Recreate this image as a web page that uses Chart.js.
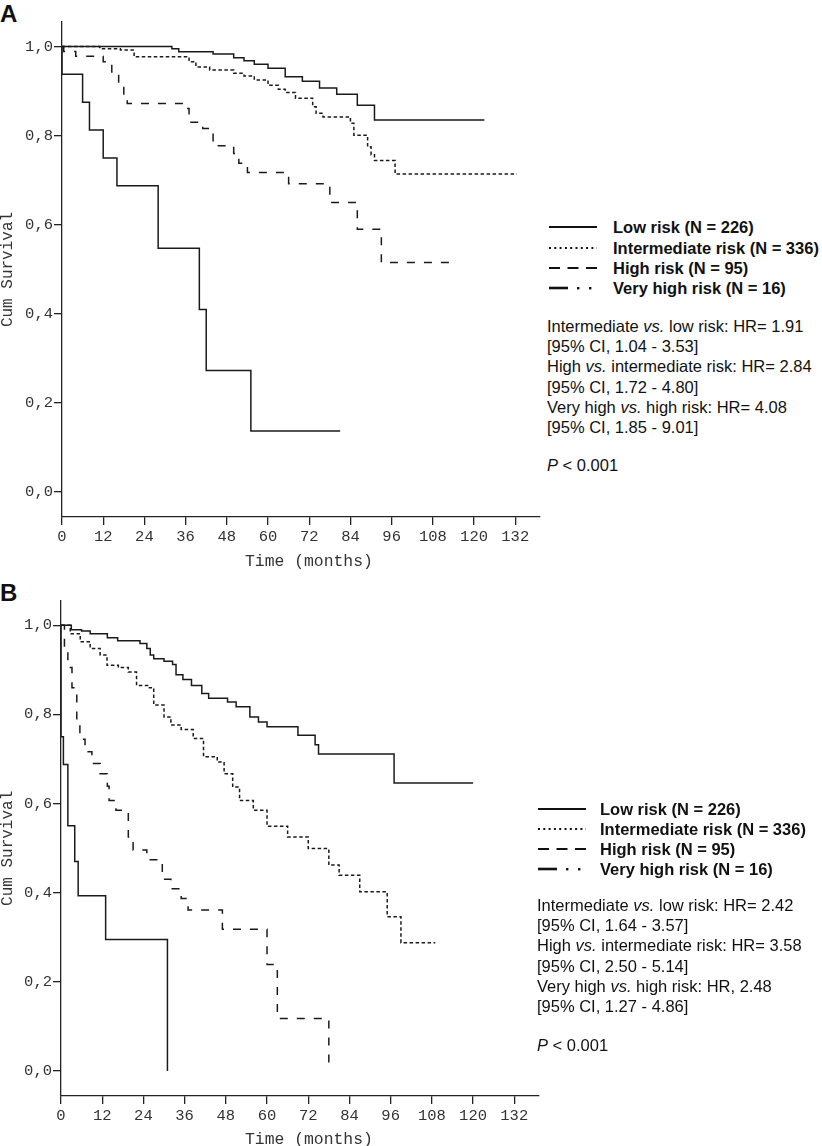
<!doctype html>
<html lang="en">
<head>
<meta charset="utf-8">
<title>Kaplan-Meier curves by risk group</title>
<style>
  * { margin: 0; padding: 0; }
  body {
    width: 822px; height: 1146px; position: relative; overflow: hidden;
    background: #fff; color: #111;
    font-family: "Liberation Sans", Arial, sans-serif;
  }
  canvas { position: absolute; left: 0; }
  #chartA { top: 0; }
  #chartB { top: 578px; }
  .panel { position: absolute; left: 0; font-size: 24px; line-height: 24px; font-weight: bold; }
  .leg { position: absolute; height: 20px; font-size: 16.5px; line-height: 20px; font-weight: bold; white-space: nowrap; }
  .leg svg { position: absolute; left: 0; top: 0; }
  .stat { position: absolute; font-size: 16.5px; line-height: 20.2px; white-space: nowrap; }
  .xtitle { position: absolute; left: 245px; font-family: "Liberation Mono", monospace; font-size: 16.4px; line-height: 20px; color: #333; white-space: pre; }
</style>
</head>
<body>
  <div class="panel" style="top:2px">A</div>
  <div class="panel" style="top:581px">B</div>

  <canvas id="chartA" width="545" height="570"></canvas>
  <canvas id="chartB" width="545" height="570"></canvas>
  <div class="xtitle" style="top:552px">Time (months)</div>
  <div class="xtitle" style="top:1130px">Time (months)</div>

  <div id="legendA"></div>
  <div class="stat" style="left:547px; top:316px">
    Intermediate <i>vs.</i> low risk: HR= 1.91<br>
    [95% CI, 1.04 - 3.53]<br>
    High <i>vs.</i> intermediate risk: HR= 2.84<br>
    [95% CI, 1.72 - 4.80]<br>
    Very high <i>vs.</i> high risk: HR= 4.08<br>
    [95% CI, 1.85 - 9.01]
  </div>
  <div class="stat" style="left:547px; top:455px"><i>P</i> &lt; 0.001</div>

  <div id="legendB"></div>
  <div class="stat" style="left:537px; top:895px">
    Intermediate <i>vs.</i> low risk: HR= 2.42<br>
    [95% CI, 1.64 - 3.57]<br>
    High <i>vs.</i> intermediate risk: HR= 3.58<br>
    [95% CI, 2.50 - 5.14]<br>
    Very high <i>vs.</i> high risk: HR, 2.48<br>
    [95% CI, 1.27 - 4.86]
  </div>
  <div class="stat" style="left:537px; top:1035px"><i>P</i> &lt; 0.001</div>

  <script src="https://cdn.jsdelivr.net/npm/chart.js"></script>
  <script>
    // ticks
    const xTicks = [0, 12, 24, 36, 48, 60, 72, 84, 96, 108, 120, 132];
    const yTicks = [0, 0.2, 0.4, 0.6, 0.8, 1.0];
    const groups = ['Low risk (N = 226)', 'Intermediate risk (N = 336)', 'High risk (N = 95)', 'Very high risk (N = 16)'];

    // panel A (time in months, cumulative survival at each step)
    const aLowT = [0, 32, 34, 44, 50, 53, 56, 60, 65, 70, 75, 80, 86, 91, 123];
    const aLowS = [1, 0.995, 0.988, 0.983, 0.975, 0.968, 0.960, 0.951, 0.932, 0.922, 0.907, 0.893, 0.868, 0.835, 0.835];
    const aIntT = [0, 11, 17, 21, 37, 39, 43, 50, 53, 56, 60, 63, 65, 68, 73, 74, 76, 84, 85, 89, 90, 91, 97, 132.5];
    const aIntS = [1, 0.995, 0.992, 0.977, 0.966, 0.954, 0.947, 0.940, 0.934, 0.925, 0.913, 0.904, 0.897, 0.884, 0.865, 0.850, 0.842, 0.828, 0.801, 0.775, 0.757, 0.744, 0.714, 0.714];
    const aHighT = [0, 0.5, 4, 12, 14.5, 16.5, 18, 19, 35, 37, 41, 44, 50, 51.5, 54, 66, 78, 86, 93, 115];
    const aHighS = [1, 0.989, 0.978, 0.966, 0.943, 0.913, 0.884, 0.872, 0.861, 0.830, 0.816, 0.777, 0.760, 0.738, 0.717, 0.692, 0.650, 0.590, 0.515, 0.515];
    const aVhT = [0, 0, 6, 8, 12, 16, 28, 40, 42, 55, 81];
    const aVhS = [1, 0.9375, 0.875, 0.8125, 0.75, 0.6875, 0.547, 0.410, 0.273, 0.137, 0.137];

    // panel B
    const bLowT = [0, 3, 6, 8.5, 13.5, 16.5, 23, 25, 26, 27, 30, 32.5, 33.5, 35.5, 38, 41, 43, 48.5, 51, 55, 57.5, 60, 69, 74, 75, 97, 120];
    const bLowS = [1, 0.990, 0.987, 0.981, 0.972, 0.965, 0.959, 0.948, 0.933, 0.925, 0.919, 0.912, 0.889, 0.878, 0.865, 0.847, 0.836, 0.828, 0.817, 0.794, 0.783, 0.772, 0.753, 0.732, 0.711, 0.646, 0.646];
    const bIntT = [0, 2.7, 5.6, 8.5, 11.4, 13.4, 16.7, 19.6, 22, 25.5, 27, 30, 32, 35, 38.5, 41.5, 45.5, 47.5, 50, 52, 56, 60, 66, 72, 78, 81, 87, 95, 99, 109];
    const bIntS = [1, 0.981, 0.963, 0.948, 0.933, 0.910, 0.905, 0.895, 0.865, 0.860, 0.821, 0.794, 0.776, 0.766, 0.746, 0.705, 0.693, 0.667, 0.637, 0.607, 0.585, 0.549, 0.525, 0.499, 0.462, 0.439, 0.402, 0.346, 0.288, 0.288];
    const bHighT = [0, 1, 2, 3.2, 4.6, 5.5, 7, 9, 11.4, 13.5, 14, 16, 19.6, 21, 25, 29.5, 32, 35, 37, 47, 60, 63, 78];
    const bHighS = [1, 0.947, 0.905, 0.860, 0.780, 0.744, 0.716, 0.690, 0.667, 0.639, 0.607, 0.585, 0.525, 0.496, 0.474, 0.430, 0.409, 0.387, 0.361, 0.318, 0.239, 0.118, 0];
    const bVhT = [0, 0, 0.7, 2, 4, 5, 13, 31];
    const bVhS = [1, 0.75, 0.6875, 0.55, 0.47, 0.393, 0.295, 0];

    const ink = '#1a1a1a';
    const dashes = [[], [3.5, 2.5], [8, 9], []];

    function pts(t, s) {
      return t.map((v, i) => ({ x: v, y: s[i] }));
    }

    function kmChart(id, curves, opt) {
      return new Chart(document.getElementById(id), {
        type: 'line',
        data: {
          datasets: curves.map((c, i) => ({
            label: groups[i],
            data: pts(c[0], c[1]),
            borderColor: ink,
            borderWidth: 1.5,
            borderDash: dashes[i],
            stepped: 'before',
            pointRadius: 0,
            fill: false
          }))
        },
        options: {
          responsive: false,
          animation: false,
          events: [],
          layout: { padding: { left: 0, right: opt.right, top: opt.top, bottom: 0 } },
          plugins: { legend: { display: false }, tooltip: { enabled: false } },
          scales: {
            x: {
              type: 'linear', min: 0, max: 139,
              afterBuildTicks: s => { s.ticks = xTicks.map(v => ({ value: v })); },
              afterFit: s => { s.height = opt.xh; },
              grid: { drawOnChartArea: false, tickLength: 8, color: '#222', lineWidth: 1.3 },
              border: { color: '#222', width: 1.3 },
              ticks: { color: '#333', padding: 3, maxRotation: 0, autoSkip: false,
                       font: { family: 'Liberation Mono', size: 15.5 } }
            },
            y: {
              min: -0.056, max: 1.055,
              afterBuildTicks: s => { s.ticks = yTicks.map(v => ({ value: v })); },
              afterFit: s => { s.width = opt.yw; },
              grid: { drawOnChartArea: false, tickLength: 8, color: '#222', lineWidth: 1.3 },
              border: { color: '#222', width: 1.3 },
              ticks: { color: '#333', padding: 1,
                       callback: v => v.toFixed(1).replace('.', ','),
                       font: { family: 'Liberation Mono', size: 15.5 } },
              title: { display: true, text: 'Cum Survival', color: '#333', padding: 0,
                       font: { family: 'Liberation Mono', size: 16, lineHeight: 1 } }
            }
          }
        }
      });
    }

    kmChart('chartA', [[aLowT, aLowS], [aIntT, aIntS], [aHighT, aHighS], [aVhT, aVhS]],
      { right: 5.7, top: 22, xh: 53, yw: 62 });
    kmChart('chartB', [[bLowT, bLowS], [bIntT, bIntS], [bHighT, bHighS], [bVhT, bVhS]],
      { right: 6.7, top: 22.7, xh: 52, yw: 61 });

    // legend line samples
    const samples = [
      '<line x1="0" y1="10" x2="48" y2="10" stroke="#111" stroke-width="2"/>',
      '<line x1="0" y1="10" x2="48" y2="10" stroke="#111" stroke-width="1.8" stroke-dasharray="2 3.3"/>',
      '<line x1="0" y1="10" x2="48" y2="10" stroke="#111" stroke-width="2.2" stroke-dasharray="11 7.5"/>',
      '<line x1="0" y1="10" x2="19" y2="10" stroke="#111" stroke-width="2.6"/>' +
        '<rect x="28" y="9" width="2.4" height="2.4" fill="#111"/><rect x="40" y="9" width="2.4" height="2.4" fill="#111"/>'
    ];

    function legend(id, left, textOff, centers) {
      const box = document.getElementById(id);
      groups.forEach((g, i) => {
        const row = document.createElement('div');
        row.className = 'leg';
        row.style.left = left + 'px';
        row.style.top = (centers[i] - 10) + 'px';
        row.innerHTML = '<svg width="48" height="20">' + samples[i] + '</svg>' +
          '<span style="margin-left:' + textOff + 'px">' + g + '</span>';
        box.appendChild(row);
      });
    }

    legend('legendA', 549, 64, [227, 247.5, 268, 288]);
    legend('legendB', 538, 62, [809, 829, 849, 869]);
  </script>
</body>
</html>
